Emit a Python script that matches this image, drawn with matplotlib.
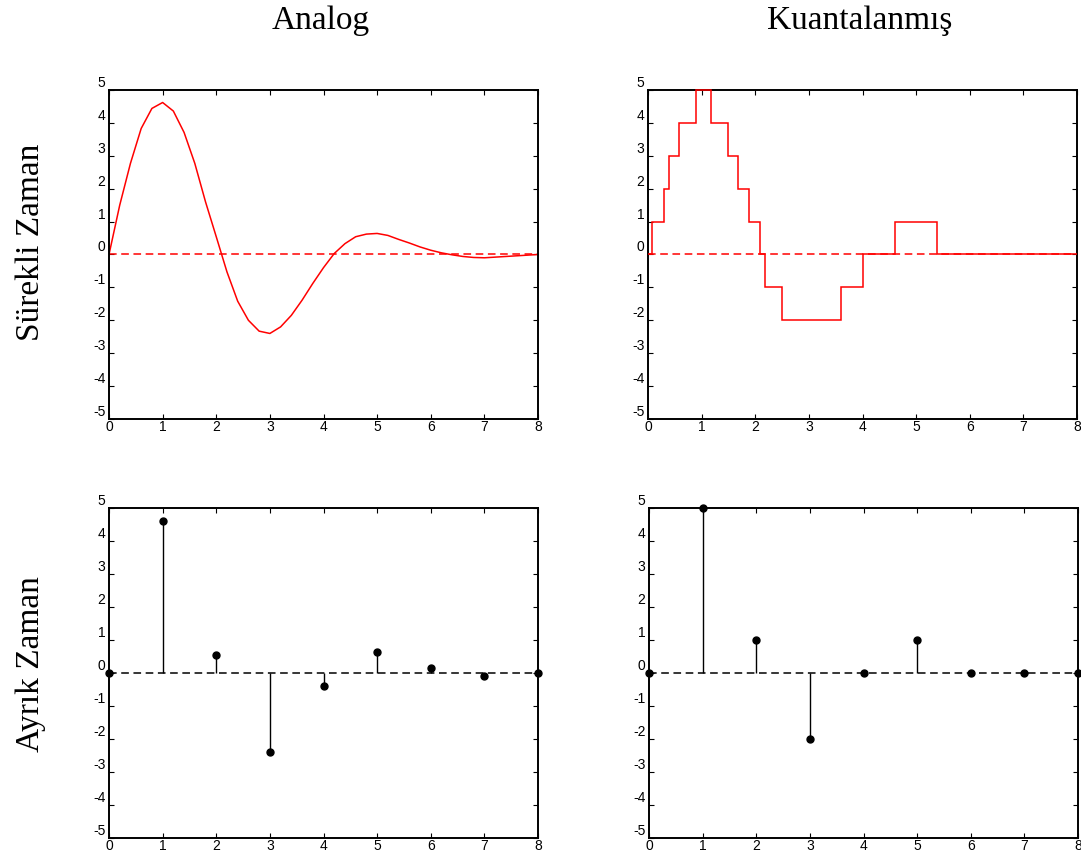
import numpy as np
import matplotlib
matplotlib.use('Agg')
import matplotlib.pyplot as plt

plt.rcParams['font.family'] = 'Liberation Sans'
plt.rcParams['axes.unicode_minus'] = False

# analog signal, sampled every 0.2 s
t = np.arange(0, 8.01, 0.2)
analog = [0, 1.50, 2.77, 3.83, 4.44, 4.62, 4.36, 3.71, 2.77, 1.60,
          0.54, -0.53, -1.42, -2.00, -2.33, -2.40, -2.20, -1.85, -1.39, -0.88,
          -0.40, 0.03, 0.33, 0.54, 0.62, 0.64, 0.58, 0.46, 0.35, 0.23,
          0.13, 0.05, -0.01, -0.06, -0.09, -0.10, -0.08, -0.06, -0.04, -0.02, 0]

# quantized (continuous time) staircase
q_edges = [0, 0.075, 0.29, 0.39, 0.58, 0.9, 1.18, 1.49, 1.68, 1.89, 2.09,
           2.18, 2.5, 3.59, 4.0, 4.6, 5.39, 8]
q_levels = [0, 1, 2, 3, 4, 5, 4, 3, 2, 1, 0, -1, -2, -1, 0, 1, 0]

# discrete samples
n = [0, 1, 2, 3, 4, 5, 6, 7, 8]
analog_samples = [0, 4.62, 0.54, -2.40, -0.40, 0.64, 0.15, -0.08, 0]
quant_samples = [0, 5, 1, -2, 0, 1, 0, 0, 0]

col_titles = ['Analog', 'Kuantalanmış']
row_titles = ['Sürekli Zaman', 'Ayrık Zaman']

W, H = 1081, 857
fig = plt.figure(figsize=(W / 100, H / 100), dpi=100)

boxes = [(109, 90, 538, 419), (648, 90, 1077, 419),
         (109, 508, 538, 838), (649, 508, 1078, 838)]
axes = []
for (x0, y0, x1, y1) in boxes:
    ax = fig.add_axes([x0 / W, 1 - y1 / H, (x1 - x0) / W, (y1 - y0) / H])
    ax.set_xlim(0, 8)
    ax.set_ylim(-5, 5)
    ax.set_xticks(range(0, 9))
    ax.set_yticks(range(-5, 6))
    ax.tick_params(direction='in', top=True, right=True, length=3.5,
                   width=0.8, labelsize=10)
    ax.tick_params(axis='x', pad=1.0)
    ax.tick_params(axis='y', pad=2.5)
    for lab in ax.get_yticklabels():
        lab.set_va('bottom')
    for sp in ax.spines.values():
        sp.set_linewidth(1.4)
    axes.append(ax)

# analog, continuous
ax = axes[0]
ax.plot(t, analog, color='red', lw=1.1)
ax.plot([0, 8], [0, 0], color='red', lw=1.1, dashes=(5, 3))

# quantized, continuous
ax = axes[1]
ax.plot([0, 8], [0, 0], color='red', lw=1.1, dashes=(5, 3))
ax.stairs(q_levels, q_edges, color='red', lw=1.1, baseline=None,
          clip_on=False, zorder=3)

# discrete plots
for ax, vals in [(axes[2], analog_samples), (axes[3], quant_samples)]:
    ml, sl, bl = ax.stem(n, vals, linefmt='k-', markerfmt='ko', basefmt='k--')
    sl.set_linewidth(1.0)
    ml.set_markersize(5)
    ml.set_clip_on(False)
    bl.set_linewidth(1.1)
    bl.set_dashes((5, 3))

for ax, title in zip(axes[:2], col_titles):
    pos = ax.get_position()
    fig.text((pos.x0 + pos.x1) / 2 - 0.003, 1 - 29 / H, title,
             ha='center', va='baseline', fontsize=24, family='Liberation Serif')

for yc, label in zip([242, 664], row_titles):
    fig.text(31 / W, 1 - yc / H, label, rotation=90, ha='center', va='center',
             fontsize=24, family='Liberation Serif')

fig.savefig('out.png', dpi=100)
